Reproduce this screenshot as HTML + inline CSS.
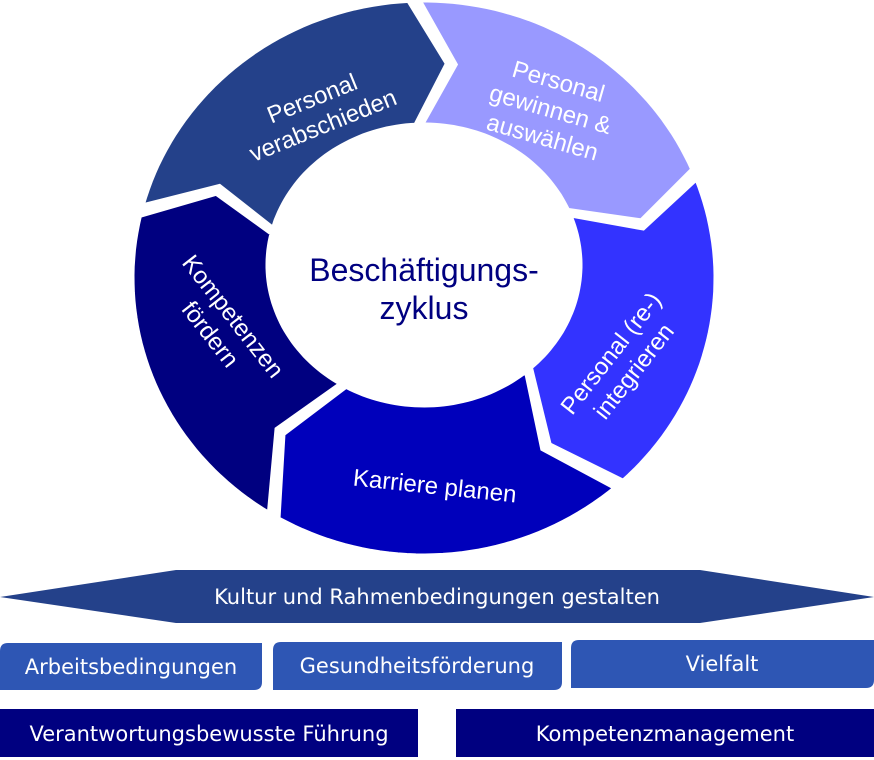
<!DOCTYPE html>
<html><head><meta charset="utf-8"><style>
html,body{margin:0;padding:0;background:#fff;width:874px;height:760px;overflow:hidden}
svg{display:block}
.b{font-family:"DejaVu Sans","Liberation Sans",sans-serif;font-size:21px;fill:#fff}
.r{font-family:"Liberation Sans",sans-serif;font-size:24px;fill:#fff}
</style></head><body>
<svg id="s" width="874" height="760" viewBox="0 0 874 760">
<g id="ring"></g>
<text x="424" y="281" text-anchor="middle" font-family="Liberation Sans,sans-serif" font-size="32" fill="#000080">Beschäftigungs-</text>
<text x="424" y="319" text-anchor="middle" font-family="Liberation Sans,sans-serif" font-size="32" fill="#000080">zyklus</text>
<g class="r" text-anchor="middle">
<text transform="translate(320,118) rotate(-22)"><tspan x="0" y="-13">Personal</tspan><tspan x="0" y="16">verabschieden</tspan></text>
<text transform="translate(548,118) rotate(16)"><tspan x="0" y="-30">Personal</tspan><tspan x="0" y="-1">gewinnen &amp;</tspan><tspan x="0" y="28">auswählen</tspan></text>
<text transform="translate(622,362) rotate(-52)"><tspan x="0" y="-6">Personal (re-)</tspan><tspan x="0" y="23">integrieren</tspan></text>
<text transform="translate(434,494) rotate(6)"><tspan x="0" y="0">Karriere planen</tspan></text>
<text transform="translate(222,325) rotate(52)"><tspan x="0" y="-6">Kompetenzen</tspan><tspan x="0" y="23">fördern</tspan></text>
</g>
<polygon points="0,597 176,570 700,570 874,597 700,623 176,623" fill="#24418a"/>
<text class="b" x="437" y="604" text-anchor="middle">Kultur und Rahmenbedingungen gestalten</text>
<path d="M8,643 H262 V682 Q262,690 254,690 H0 V651 Q0,643 8,643Z" fill="#2e56b4"/>
<path d="M281,642 H562 V682 Q562,690 554,690 H273 V650 Q273,642 281,642Z" fill="#2e56b4"/>
<path d="M579,640 H874 V680 Q874,688 866,688 H571 V648 Q571,640 579,640Z" fill="#2e56b4"/>
<text class="b" x="131" y="674" text-anchor="middle">Arbeitsbedingungen</text>
<text class="b" x="417" y="673" text-anchor="middle">Gesundheitsförderung</text>
<text class="b" x="722" y="671" text-anchor="middle">Vielfalt</text>
<rect x="0" y="709" width="418" height="48" fill="#000080"/>
<rect x="456" y="709" width="418" height="48" fill="#000080"/>
<text class="b" x="209" y="741" text-anchor="middle">Verantwortungsbewusste Führung</text>
<text class="b" x="665" y="741" text-anchor="middle">Kompetenzmanagement</text>
</svg>
<script>
(function(){
var oc=[424,278],orx=292,ory=278,ic=[424,265],irx=156,iry=140;
function P(t,a){var r=a*Math.PI/180;var cx=oc[0]*t+ic[0]*(1-t),cy=oc[1]*t+ic[1]*(1-t),rx=orx*t+irx*(1-t),ry=ory*t+iry*(1-t);return [cx+rx*Math.sin(r),cy-ry*Math.cos(r)];}
var segs=[[284-360,-2,"#24418a"],[-2,68,"#9999ff"],[68,138,"#3333ff"],[138,211,"#0000bb"],[211,284,"#000080"]];
var tip=9,g=document.getElementById('ring'),h='';
segs.forEach(function(s){
 var a0=s[0]+1,a1=s[1]-1,pts=[],i,n=40;
 for(i=0;i<=n;i++)pts.push(P(1,a0+(a1-a0)*i/n));
 pts.push(P(0.5,a1+tip));
 for(i=n;i>=0;i--)pts.push(P(0,a0+(a1-a0)*i/n));
 pts.push(P(0.5,a0+tip));
 h+='<polygon points="'+pts.map(function(p){return p[0].toFixed(1)+','+p[1].toFixed(1)}).join(' ')+'" fill="'+s[2]+'" stroke="#fff" stroke-width="5" stroke-linejoin="miter"/>';
});
g.innerHTML=h;
})();
</script>
</body></html>
